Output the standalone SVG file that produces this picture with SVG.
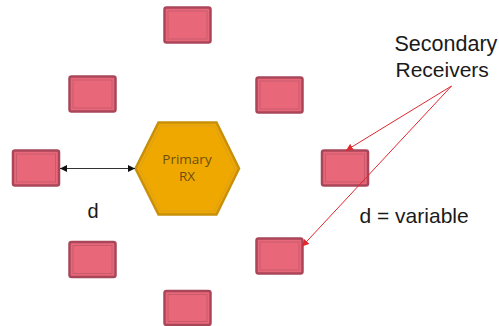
<svg xmlns="http://www.w3.org/2000/svg" width="499" height="326" viewBox="0 0 499 326">
  <style>
    .rx-outer { fill: #e8687a; stroke: #a9465a; stroke-width: 2.5; }
    .rx-inner { fill: none; stroke: #c85a6c; stroke-width: 1; }
    .hex-outer { fill: #efa800; stroke: #c8900a; stroke-width: 2.5; }
    .hex-inner { fill: none; stroke: #dca020; stroke-width: 1; }
    .label { font-family: "Liberation Sans", Arial, sans-serif; fill: #1a1a1a; }
    .hex-label { font-family: "Open Sans", "Liberation Sans", sans-serif; font-size: 13.5px; fill: #6e4e10; text-anchor: middle; }
    .dim { stroke: #333333; stroke-width: 1; fill: none; }
    .pointer { stroke: #e0282e; stroke-width: 1; fill: none; }
  </style>
  <defs>
    <marker id="dimHead" viewBox="0 0 10 10" refX="10" refY="5" markerWidth="7" markerHeight="7" orient="auto-start-reverse" markerUnits="userSpaceOnUse">
      <path d="M0,0 L10,5 L0,10 z" fill="#111111"/>
    </marker>
    <marker id="redHead" viewBox="0 0 10 10" refX="10" refY="5" markerWidth="7" markerHeight="7" orient="auto" markerUnits="userSpaceOnUse">
      <path d="M0,0 L10,5 L0,10 z" fill="#e0282e"/>
    </marker>
  </defs>

  <!-- secondary receivers arranged around the primary receiver -->
  <g id="rx-top">
    <rect class="rx-outer" x="164.5" y="7.5" width="46" height="35" rx="2"/>
    <rect class="rx-inner" x="168" y="11" width="39" height="28"/>
  </g>
  <g id="rx-upper-left">
    <rect class="rx-outer" x="69.5" y="76.5" width="46" height="35" rx="2"/>
    <rect class="rx-inner" x="73" y="80" width="39" height="28"/>
  </g>
  <g id="rx-upper-right">
    <rect class="rx-outer" x="256.5" y="77.5" width="46" height="35" rx="2"/>
    <rect class="rx-inner" x="260" y="81" width="39" height="28"/>
  </g>
  <g id="rx-left">
    <rect class="rx-outer" x="13" y="150.5" width="46" height="35" rx="2"/>
    <rect class="rx-inner" x="16.5" y="154" width="39" height="28"/>
  </g>
  <g id="rx-right">
    <rect class="rx-outer" x="322" y="150.5" width="46" height="35" rx="2"/>
    <rect class="rx-inner" x="325.5" y="154" width="39" height="28"/>
  </g>
  <g id="rx-lower-left">
    <rect class="rx-outer" x="69.5" y="242" width="46" height="35" rx="2"/>
    <rect class="rx-inner" x="73" y="245.5" width="39" height="28"/>
  </g>
  <g id="rx-lower-right">
    <rect class="rx-outer" x="256.5" y="238.5" width="46" height="35" rx="2"/>
    <rect class="rx-inner" x="260" y="242" width="39" height="28"/>
  </g>
  <g id="rx-bottom">
    <rect class="rx-outer" x="164.5" y="291" width="46" height="34" rx="2"/>
    <rect class="rx-inner" x="168" y="294.5" width="39" height="27"/>
  </g>

  <!-- primary receiver -->
  <g id="primary-rx">
    <polygon class="hex-outer" points="135.5,168.5 158.5,122.5 216.5,122.5 239,168.5 216.5,214.5 158.5,214.5"/>
    <polygon class="hex-inner" points="139.5,168.5 160.5,126 214.5,126 235,168.5 214.5,211 160.5,211"/>
    <text class="hex-label" x="187" y="164">Primary</text>
    <text class="hex-label" x="187" y="181">RX</text>
  </g>

  <!-- connectors -->
  <g id="connectors">
    <line class="dim" x1="60" y1="168.5" x2="135" y2="168.5" marker-start="url(#dimHead)" marker-end="url(#dimHead)"/>
    <line class="pointer" x1="451.5" y1="86" x2="346" y2="150.5" marker-end="url(#redHead)"/>
    <line class="pointer" x1="451.5" y1="86" x2="302" y2="246.5" marker-end="url(#redHead)"/>
  </g>

  <!-- labels -->
  <g id="labels">
    <text class="label" x="394.5" y="51" font-size="21.5">Secondary</text>
    <text class="label" x="395.5" y="76.5" font-size="21">Receivers</text>
    <text class="label" x="87.5" y="217.5" font-size="20">d</text>
    <text class="label" x="359.5" y="223" font-size="21">d = variable</text>
  </g>
</svg>
